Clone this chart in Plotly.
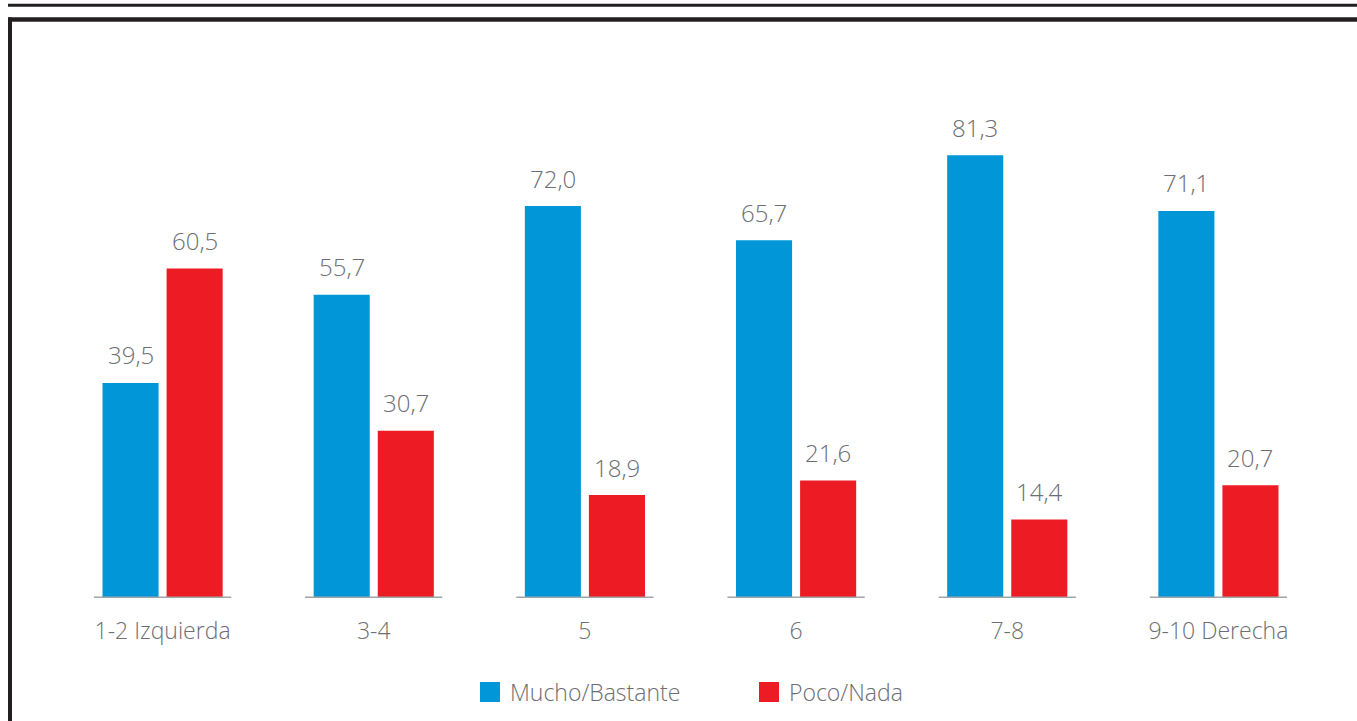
import plotly.graph_objects as go

categories = ["1-2 Izquierda", "3-4", "5", "6", "7-8", "9-10 Derecha"]
mucho = [39.5, 55.7, 72.0, 65.7, 81.3, 71.1]
poco = [60.5, 30.7, 18.9, 21.6, 14.4, 20.7]
series_names = ["Mucho/Bastante", "Poco/Nada"]

BLUE = "#0096D8"
RED = "#ED1C24"
TEXT = "#6d6e71"
FONT = "Open Sans"
WEIGHT = 300

W, H = 1357, 721
ML, MR, MT, MB = 57, 33, 108, 123
PW, PH = W - ML - MR, H - MT - MB


def px_x(p):
    return (p - ML) / PW


def px_y(p):
    return (H - MB - p) / PH


def fmt(v):
    return f"{v:.1f}".replace(".", ",")


fig = go.Figure()
fig.add_trace(go.Bar(x=categories, y=mucho, name=series_names[0],
                     marker=dict(color=BLUE, line=dict(width=0)), showlegend=False))
fig.add_trace(go.Bar(x=categories, y=poco, name=series_names[1],
                     marker=dict(color=RED, line=dict(width=0)), showlegend=False))

# legend-only traces (bigger square symbols)
for name, col in zip(series_names, [BLUE, RED]):
    fig.add_trace(go.Scatter(x=[None], y=[None], mode="markers", name=name,
                             marker=dict(symbol="square", size=16, color=col,
                                         line=dict(color=col, width=4))))

bargap = 0.393
slot = (1 - bargap) / 2
annotations = []
for i, cat in enumerate(categories):
    for val, off in ((mucho[i], -slot / 2), (poco[i], slot / 2)):
        annotations.append(dict(x=i + off, y=val, xref="x", yref="y", text=fmt(val),
                                showarrow=False, yshift=28, yanchor="middle",
                                font=dict(family=FONT, size=24, color=TEXT, weight=WEIGHT)))

shapes = []
for i, cat in enumerate(categories):
    shapes.append(dict(type="line", xref="x", yref="y", x0=i - 0.325, x1=i + 0.325,
                       y0=0, y1=0, line=dict(color="#a3a4a6", width=3), layer="above"))

# frame lines
shapes.append(dict(type="line", xref="paper", yref="paper", x0=px_x(8), x1=px_x(W + 5),
                   y0=px_y(5.3), y1=px_y(5.3), line=dict(color="#231f20", width=3)))
shapes.append(dict(type="line", xref="paper", yref="paper", x0=px_x(8), x1=px_x(W + 5),
                   y0=px_y(19.6), y1=px_y(19.6), line=dict(color="#231f20", width=4.5)))
shapes.append(dict(type="line", xref="paper", yref="paper", x0=px_x(10), x1=px_x(10),
                   y0=px_y(17.5), y1=px_y(H + 5), line=dict(color="#231f20", width=4)))

fig.update_layout(
    width=W, height=H,
    margin=dict(l=ML, r=MR, t=MT, b=MB, autoexpand=False),
    paper_bgcolor="white", plot_bgcolor="white",
    barmode="group", bargap=bargap, bargroupgap=0.125,
    font=dict(family=FONT, size=23, color=TEXT, weight=WEIGHT),
    xaxis=dict(type="category", range=[-0.5, 5.5], showgrid=False, zeroline=False,
               showline=False, ticks="", automargin=False,
               tickfont=dict(family=FONT, size=23, color=TEXT, weight=WEIGHT),
               ticklabelstandoff=17, fixedrange=True),
    yaxis=dict(range=[0, 90], visible=False, fixedrange=True, automargin=False),
    showlegend=True,
    legend=dict(orientation="h", x=px_x(470), xanchor="left", y=px_y(692), yanchor="middle",
                font=dict(family=FONT, size=23, color=TEXT, weight=WEIGHT), entrywidth=234,
                entrywidthmode="pixels", itemclick=False, itemdoubleclick=False,
                bgcolor="rgba(0,0,0,0)"),
    annotations=annotations,
    shapes=shapes,
)

fig.write_html("out.html", config={"displayModeBar": False},
               post_script="document.body.style.margin='0';document.body.style.overflow='hidden';")
